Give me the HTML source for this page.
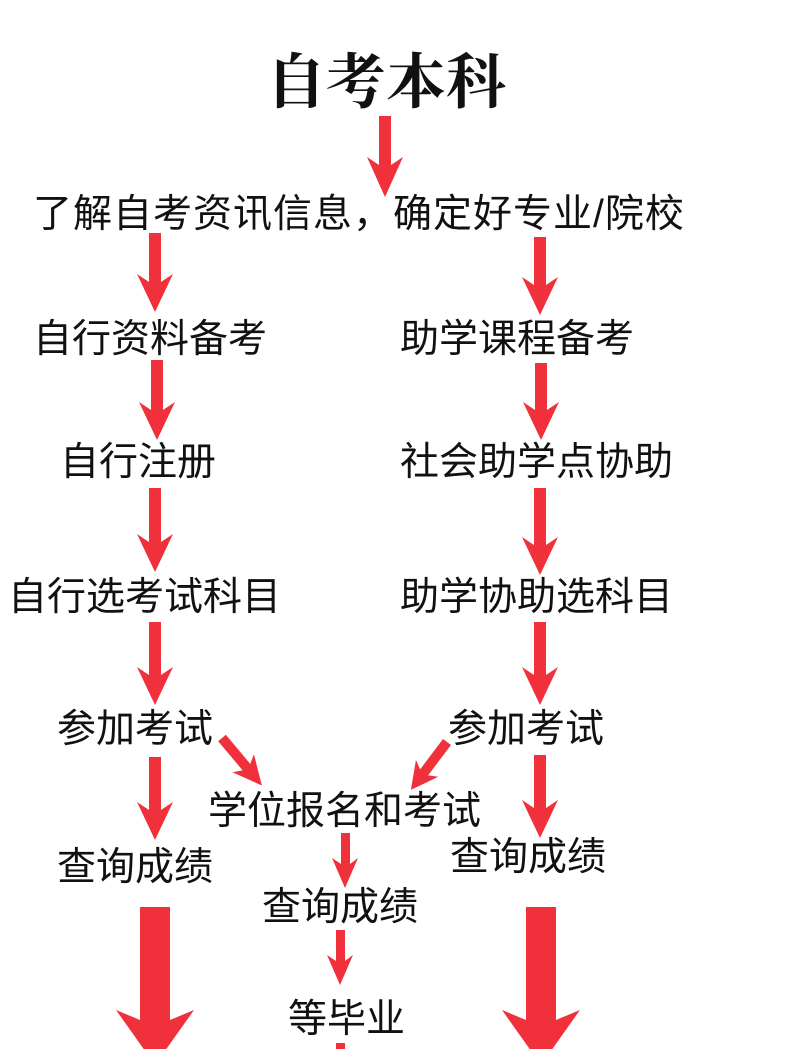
<!DOCTYPE html>
<html><head><meta charset="utf-8"><style>
html,body{margin:0;padding:0;background:#fff}
body{width:800px;height:1049px;position:relative;overflow:hidden}
.t{position:absolute;font-family:"Liberation Sans","WenQuanYi Zen Hei","Noto Sans CJK SC",sans-serif;font-size:39px;line-height:44px;color:#111;white-space:nowrap}
svg{position:absolute;left:0;top:0}
</style></head><body>
<div class="t" style="left:266px;top:48px;font-size:60px;line-height:70px;font-weight:bold;font-family:'Liberation Serif','Noto Serif CJK SC',serif;">自考本科</div>
<div class="t" style="left:33px;top:193px;letter-spacing:1px;">了解自考资讯信息，确定好专业/院校</div>
<div class="t" style="left:33px;top:318px;">自行资料备考</div>
<div class="t" style="left:400px;top:318px;">助学课程备考</div>
<div class="t" style="left:60px;top:441px;">自行注册</div>
<div class="t" style="left:400px;top:441px;">社会助学点协助</div>
<div class="t" style="left:8px;top:576px;">自行选考试科目</div>
<div class="t" style="left:400px;top:576px;">助学协助选科目</div>
<div class="t" style="left:57px;top:708px;">参加考试</div>
<div class="t" style="left:448px;top:708px;">参加考试</div>
<div class="t" style="left:208px;top:790px;">学位报名和考试</div>
<div class="t" style="left:57px;top:846px;">查询成绩</div>
<div class="t" style="left:450px;top:836px;">查询成绩</div>
<div class="t" style="left:262px;top:886px;">查询成绩</div>
<div class="t" style="left:288px;top:998px;">等毕业</div>
<svg width="800" height="1049" viewBox="0 0 800 1049" fill="#f0303a">
<polygon points="379,116 391,116 391,165 403,157 385,197 367,157 379,165"/>
<polygon points="149,233 161,233 161,282 173,274 155,312 137,274 149,282"/>
<polygon points="534,237 546,237 546,285 558,277 540,315 522,277 534,285"/>
<polygon points="151,360 163,360 163,410 175,402 157,440 139,402 151,410"/>
<polygon points="535,363 547,363 547,410 559,402 541,440 523,402 535,410"/>
<polygon points="149,488 161,488 161,542 173,534 155,572 137,534 149,542"/>
<polygon points="534,488 546,488 546,545 558,537 540,575 522,537 534,545"/>
<polygon points="149,622 161,622 161,675 173,667 155,705 137,667 149,675"/>
<polygon points="534,622 546,622 546,675 558,667 540,705 522,667 534,675"/>
<polygon points="149,757 161,757 161,810 173,802 155,840 137,802 149,810"/>
<polygon points="534,755 546,755 546,808 558,800 540,838 522,800 534,808"/>
<polygon points="341,833 350,833 350,864 358,858 345,888 332,858 341,864"/>
<polygon points="336,930 345,930 345,961 353,955 340,985 327,955 336,961"/>
<rect x="336" y="1043" width="9" height="10"/>
<polygon points="140,907 170,907 170,1020 194,1010 155,1065 116,1010 140,1020"/>
<polygon points="526,907 556,907 556,1020 580,1010 541,1065 502,1010 526,1020"/>
<g transform="translate(222,738) rotate(-40)">
<polygon points="-5,0 5,0 5,38 14,33 0,62 -14,33 -5,38"/>
</g>
<g transform="translate(447,742) rotate(37)">
<polygon points="-5,0 5,0 5,38 14,33 0,60 -14,33 -5,38"/>
</g>
</svg>
</body></html>
